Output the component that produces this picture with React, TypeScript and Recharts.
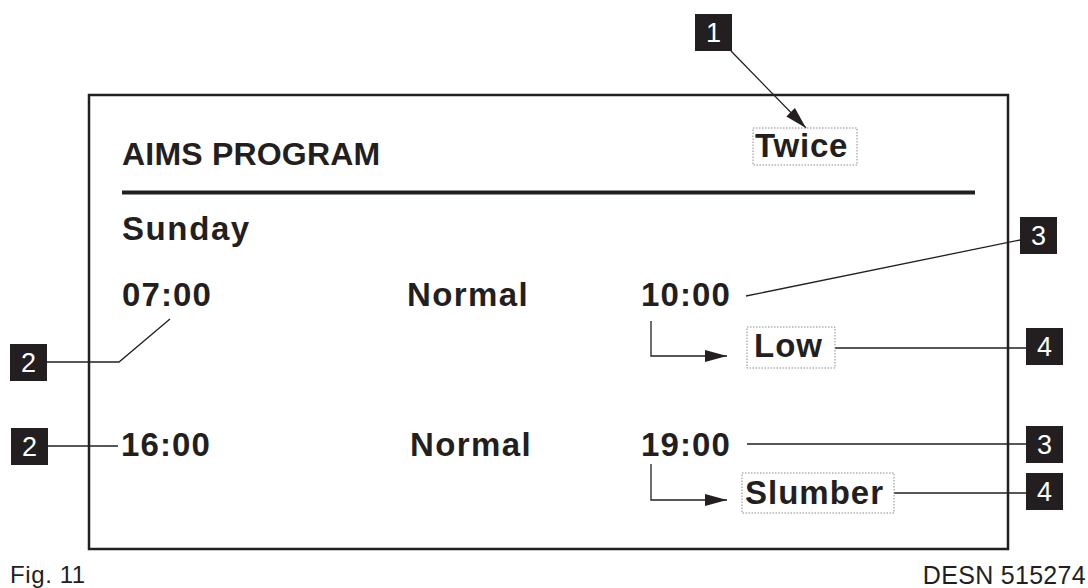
import React from "react";
import {
  ScatterChart,
  Scatter,
  XAxis,
  YAxis,
  ReferenceArea,
  ReferenceLine,
} from "recharts";

// chart content
const title = "AIMS PROGRAM";
const frequency = "Twice";
const dayName = "Sunday";
const periodStarts = ["07:00", "16:00"];
const periodModes = ["Normal", "Normal"];
const periodEnds = ["10:00", "19:00"];
const setbackModes = ["Low", "Slumber"];
const calloutNumbers = ["1", "2", "2", "3", "4", "3", "4"];
const figureLabel = "Fig. 11";
const drawingRef = "DESN 515274";

const INK = "#231f20";
const FONT = "'Liberation Sans', Arial, Helvetica, sans-serif";
const W = 1088;
const H = 588;

// layout (pixel grid of the drawing)
const COL = { left: 122, mode: 407, end: 641 };
const ROW = { title: 165, day: 240, period: [306, 456], setback: [357, 504] };
const SETBACK_X = [754, 745];
const SETBACK_BOX = [
  { x: 747, w: 88, top: 327, h: 41 },
  { x: 742, w: 152, top: 473, h: 40 },
];
const TWICE_BOX = { x: 753, w: 104, top: 128, h: 37 };
const TAGS = [
  { x: 695, y: 14 },
  { x: 10, y: 344 },
  { x: 11, y: 428 },
  { x: 1020, y: 217 },
  { x: 1026, y: 328 },
  { x: 1026, y: 426 },
  { x: 1026, y: 473 },
];
const TAG = 37;

type Pt = { x: number; y: number };
const leaders: { pts: Pt[]; arrow?: boolean }[] = [
  { pts: [{ x: 731, y: 51 }, { x: 806, y: 128 }], arrow: true },
  { pts: [{ x: 47, y: 362 }, { x: 119, y: 362 }, { x: 170, y: 319 }] },
  { pts: [{ x: 48, y: 446 }, { x: 118, y: 446 }] },
  { pts: [{ x: 746, y: 296 }, { x: 1020, y: 240 }] },
  { pts: [{ x: 835, y: 348 }, { x: 1026, y: 348 }] },
  { pts: [{ x: 747, y: 444 }, { x: 1026, y: 444 }] },
  { pts: [{ x: 894, y: 493 }, { x: 1026, y: 493 }] },
  { pts: [{ x: 651, y: 321 }, { x: 651, y: 356 }, { x: 727, y: 356 }], arrow: true },
  { pts: [{ x: 651, y: 464 }, { x: 651, y: 500 }, { x: 727, y: 500 }], arrow: true },
];

type TextItem = {
  x: number;
  y: number;
  label: string;
  size: number;
  bold: boolean;
  spacing: number;
  anchor?: "start" | "end";
};

const texts: TextItem[] = [
  { x: COL.left, y: ROW.title, label: title, size: 32, bold: true, spacing: 0.2 },
  { x: 755, y: 157, label: frequency, size: 33, bold: true, spacing: 0.8 },
  { x: COL.left, y: ROW.day, label: dayName, size: 33, bold: true, spacing: 1.6 },
  ...periodStarts.map((t, i) => ({
    x: i === 0 ? COL.left : COL.left - 1,
    y: ROW.period[i],
    label: t,
    size: 33,
    bold: true,
    spacing: 1.1,
  })),
  ...periodModes.map((t, i) => ({
    x: i === 0 ? COL.mode : COL.mode + 3,
    y: ROW.period[i],
    label: t,
    size: 33,
    bold: true,
    spacing: 1.4,
  })),
  ...periodEnds.map((t, i) => ({
    x: COL.end,
    y: ROW.period[i],
    label: t,
    size: 33,
    bold: true,
    spacing: 1.1,
  })),
  ...setbackModes.map((t, i) => ({
    x: SETBACK_X[i],
    y: ROW.setback[i],
    label: t,
    size: 33,
    bold: true,
    spacing: 1.0,
  })),
  { x: 10, y: 583, label: figureLabel, size: 24, bold: false, spacing: 0.6 },
  { x: 1086, y: 584, label: drawingRef, size: 25, bold: false, spacing: 0.3, anchor: "end" },
];

const boxes = [TWICE_BOX, ...SETBACK_BOX].map((b) => ({ x: b.x, y: b.top, w: b.w, h: b.h }));
const tags = TAGS.map((t, i) => ({ x: t.x, y: t.y, label: calloutNumbers[i] }));

const arrowHeads = leaders
  .filter((l) => l.arrow)
  .map((l) => {
    const a = l.pts[l.pts.length - 2];
    const b = l.pts[l.pts.length - 1];
    return { x: b.x, y: b.y, angle: Math.atan2(b.y - a.y, b.x - a.x) };
  });

const TextShape = (props: any) => {
  const p: TextItem = props.payload;
  return (
    <text
      x={props.cx}
      y={props.cy}
      fill={INK}
      fontFamily={FONT}
      fontSize={p.size}
      fontWeight={p.bold ? 700 : 400}
      letterSpacing={p.spacing}
      textAnchor={p.anchor || "start"}
    >
      {p.label}
    </text>
  );
};

const BoxShape = (props: any) => (
  <rect
    x={props.cx}
    y={props.cy}
    width={props.payload.w}
    height={props.payload.h}
    fill="none"
    stroke="#8a8a8a"
    strokeWidth={1}
    strokeDasharray="1.5 1.5"
  />
);

const TagShape = (props: any) => (
  <g>
    <rect x={props.cx} y={props.cy} width={TAG} height={TAG} fill={INK} />
    <text
      x={props.cx + TAG / 2}
      y={props.cy + TAG / 2 + 9}
      textAnchor="middle"
      fill="#fff"
      fontFamily={FONT}
      fontSize={27}
    >
      {props.payload.label}
    </text>
  </g>
);

const ArrowShape = (props: any) => {
  const deg = (props.payload.angle * 180) / Math.PI;
  return (
    <polygon
      points="0,0 -22,-6 -22,6"
      fill={INK}
      transform={`translate(${props.cx},${props.cy}) rotate(${deg})`}
    />
  );
};

const Empty = () => <g />;

export default function App() {
  return (
    <div style={{ position: "absolute", left: 0, top: 0, background: "#fff" }}>
      <ScatterChart width={W} height={H} margin={{ top: 0, right: 0, bottom: 0, left: 0 }}>
        <XAxis type="number" dataKey="x" domain={[0, W]} hide />
        <YAxis type="number" dataKey="y" domain={[0, H]} reversed hide />
        <ReferenceArea
          x1={89}
          x2={1008}
          y1={95}
          y2={549}
          fill="none"
          fillOpacity={0}
          stroke={INK}
          strokeWidth={2.5}
          ifOverflow="visible"
        />
        <ReferenceLine
          segment={[
            { x: 122, y: 192.5 },
            { x: 975, y: 192.5 },
          ]}
          stroke={INK}
          strokeWidth={4}
          ifOverflow="visible"
        />
        {leaders.map((l, i) => (
          <Scatter
            key={`lead-${i}`}
            data={l.pts}
            line={{ stroke: INK, strokeWidth: 1.3 }}
            shape={Empty}
            isAnimationActive={false}
          />
        ))}
        <Scatter data={arrowHeads} shape={ArrowShape} isAnimationActive={false} />
        <Scatter data={boxes} shape={BoxShape} isAnimationActive={false} />
        <Scatter data={tags} shape={TagShape} isAnimationActive={false} />
        <Scatter data={texts} shape={TextShape} isAnimationActive={false} />
      </ScatterChart>
    </div>
  );
}
